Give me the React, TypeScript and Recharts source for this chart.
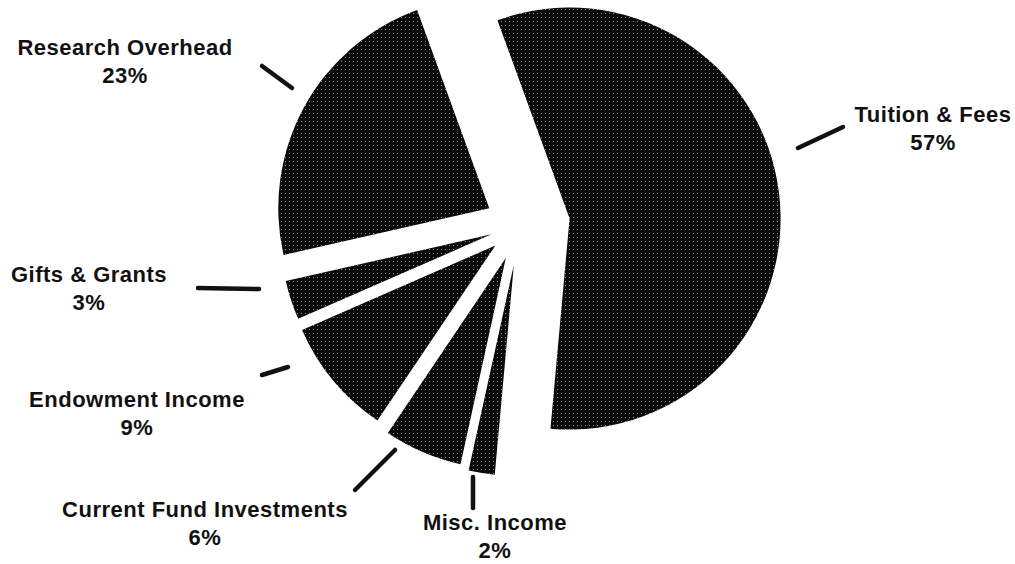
import { PieChart, Pie, Sector } from 'recharts';

// sources of income, in drawing order (clockwise from the top of the tuition slice)
const CATEGORIES = [
  'Tuition & Fees',
  'Misc. Income',
  'Current Fund Investments',
  'Endowment Income',
  'Gifts & Grants',
  'Research Overhead',
];
const SHARES = [57, 2, 6, 9, 3, 23];

const data = CATEGORIES.map((name, i) => ({ name, value: SHARES[i] }));

// how far each slice is pulled out of the pie (px)
const EXPLODE = [50, 40, 36, 32, 30, 35];

// leader line start/end and label anchor, relative to pie centre
const LABEL_LAYOUT = [
  { line: [278, -77, 323, -98], text: [413, -103] },
  { line: [-47, 252, -47, 283], text: [-25, 305] },
  { line: [-165, 265, -125, 225], text: [-315, 292] },
  { line: [-258, 150, -232, 142], text: [-383, 182] },
  { line: [-322, 63, -261, 64], text: [-431, 57] },
  { line: [-258, -159, -228, -137], text: [-395, -170] },
];

const RADIAN = Math.PI / 180;
const INK = '#111';
const FONT = "'Liberation Sans', Arial, Helvetica, sans-serif";

function ExplodedSector(props: any) {
  const name = props.payload?.name ?? props.name;
  const off = EXPLODE[CATEGORIES.indexOf(name)] ?? 0;
  const dx = off * Math.cos(-props.midAngle * RADIAN);
  const dy = off * Math.sin(-props.midAngle * RADIAN);
  return <Sector {...props} cx={props.cx + dx} cy={props.cy + dy} />;
}

function renderLabel(props: any) {
  const { cx, cy, name, value } = props;
  const i = CATEGORIES.indexOf(name);
  const layout = LABEL_LAYOUT[i];
  if (!layout) return null;
  const [x1, y1, x2, y2] = layout.line;
  const [tx, ty] = layout.text;
  return (
    <g key={`lbl-${i}`}>
      <line
        x1={cx + x1}
        y1={cy + y1}
        x2={cx + x2}
        y2={cy + y2}
        stroke={INK}
        strokeWidth={4.5}
        strokeLinecap="round"
      />
      <text
        x={cx + tx}
        y={cy + ty}
        textAnchor="middle"
        fill={INK}
        fontFamily={FONT}
        fontWeight="bold"
        fontSize={22}
        letterSpacing={0.5}
      >
        <tspan x={cx + tx} dy={0}>{name}</tspan>
        <tspan x={cx + tx} dy={28}>{`${value}%`}</tspan>
      </text>
    </g>
  );
}

export default function App() {
  return (
    <div style={{ position: 'absolute', left: 0, top: 0, width: 1015, height: 564, background: '#fff' }}>
      <PieChart width={1015} height={564} margin={{ top: 0, right: 0, bottom: 0, left: 0 }}>
        <defs>
          <pattern id="stipple" width="4" height="4" patternUnits="userSpaceOnUse">
            <rect width="4" height="4" fill="#0a0a0a" />
            <rect x="1" y="1" width="1" height="1" fill="#8a8a8a" />
          </pattern>
        </defs>
        <Pie
          data={data}
          dataKey="value"
          nameKey="name"
          cx={520}
          cy={225}
          outerRadius={211}
          startAngle={110}
          endAngle={-250}
          fill="url(#stipple)"
          stroke="none"
          shape={ExplodedSector}
          activeShape={ExplodedSector}
          inactiveShape={ExplodedSector}
          label={renderLabel}
          labelLine={false}
          isAnimationActive={false}
        />
      </PieChart>
    </div>
  );
}
